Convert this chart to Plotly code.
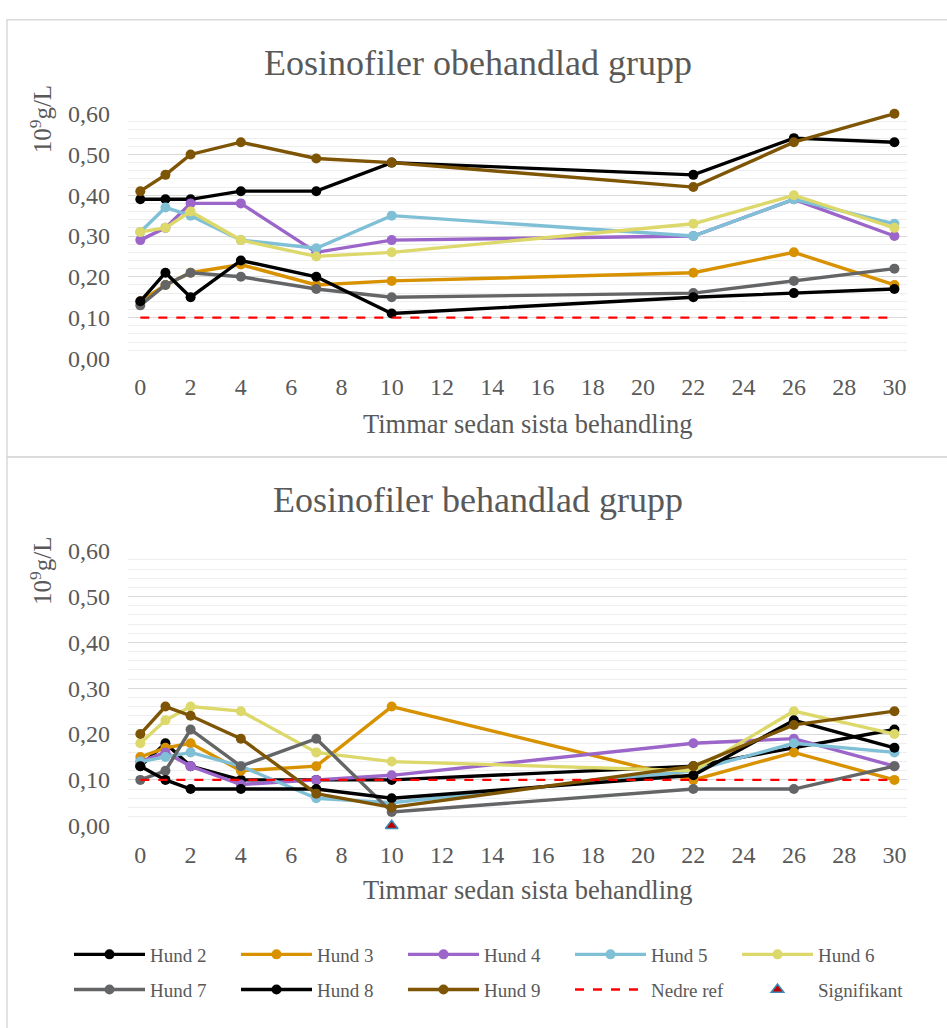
import plotly.graph_objects as go

# ---------------- data ----------------
hours = [0, 1, 2, 4, 7, 10, 22, 26, 30]
dog_names = ["Hund 2", "Hund 3", "Hund 4", "Hund 5", "Hund 6", "Hund 7", "Hund 8", "Hund 9"]

# untreated group (obehandlad)
untreated_h2 = [0.39, 0.39, 0.39, 0.41, 0.41, 0.48, 0.45, 0.54, 0.53]
untreated_h3 = [0.14, 0.18, 0.21, 0.23, 0.18, 0.19, 0.21, 0.26, 0.18]
untreated_h4 = [0.29, 0.32, 0.38, 0.38, 0.26, 0.29, 0.30, 0.39, 0.30]
untreated_h5 = [0.31, 0.37, 0.35, 0.29, 0.27, 0.35, 0.30, 0.39, 0.33]
untreated_h6 = [0.31, 0.32, 0.36, 0.29, 0.25, 0.26, 0.33, 0.40, 0.32]
untreated_h7 = [0.13, 0.18, 0.21, 0.20, 0.17, 0.15, 0.16, 0.19, 0.22]
untreated_h8 = [0.14, 0.21, 0.15, 0.24, 0.20, 0.11, 0.15, 0.16, 0.17]
untreated_h9 = [0.41, 0.45, 0.50, 0.53, 0.49, 0.48, 0.42, 0.53, 0.60]

# treated group (behandlad)
treated_h2 = [0.13, 0.18, 0.13, 0.10, 0.10, 0.10, 0.13, 0.17, 0.21]
treated_h3 = [0.15, 0.17, 0.18, 0.12, 0.13, 0.26, 0.10, 0.16, 0.10]
treated_h4 = [0.14, 0.16, 0.13, 0.09, 0.10, 0.11, 0.18, 0.19, 0.13]
treated_h5 = [0.14, 0.15, 0.16, 0.13, 0.06, 0.05, 0.12, 0.18, 0.16]
treated_h6 = [0.18, 0.23, 0.26, 0.25, 0.16, 0.14, 0.12, 0.25, 0.20]
treated_h7 = [0.10, 0.12, 0.21, 0.13, 0.19, 0.03, 0.08, 0.08, 0.13]
treated_h8 = [0.13, 0.10, 0.08, 0.08, 0.08, 0.06, 0.11, 0.23, 0.17]
treated_h9 = [0.20, 0.26, 0.24, 0.19, 0.07, 0.04, 0.13, 0.22, 0.25]

ref_x = [0, 30]
ref_y = [0.10, 0.10]

signif_x = [10]
signif_y = [0.0]

x_ticks = list(range(0, 31, 2))
y_ticks = [0.0, 0.1, 0.2, 0.3, 0.4, 0.5, 0.6]

# ---------------- style ----------------
colors = ["#000000", "#D89200", "#9B65C9", "#80C0D6", "#DCD86A", "#646567", "#000000", "#7E5504"]
FONT = "Liberation Serif"
TXT = "#595959"
W, H = 947, 1028

untreated = [untreated_h2, untreated_h3, untreated_h4, untreated_h5,
             untreated_h6, untreated_h7, untreated_h8, untreated_h9]
treated = [treated_h2, treated_h3, treated_h4, treated_h5,
           treated_h6, treated_h7, treated_h8, treated_h9]


def px_x(p):
    return p / W


def px_y(p):
    return 1 - p / H


fig = go.Figure()

for i, name in enumerate(dog_names):
    fig.add_trace(go.Scatter(
        x=hours, y=untreated[i], name=name, mode="lines+markers",
        line=dict(color=colors[i], width=3.4), marker=dict(color=colors[i], size=10),
        xaxis="x", yaxis="y", showlegend=False, legendgroup=name, cliponaxis=False))
fig.add_trace(go.Scatter(
    x=ref_x, y=ref_y, name="Nedre ref", mode="lines",
    line=dict(color="#FF0000", width=2.4, dash="dash"),
    xaxis="x", yaxis="y", showlegend=False, legendgroup="ref"))

for i, name in enumerate(dog_names):
    fig.add_trace(go.Scatter(
        x=hours, y=treated[i], name=name, mode="lines+markers",
        line=dict(color=colors[i], width=3.4), marker=dict(color=colors[i], size=10),
        xaxis="x2", yaxis="y2", showlegend=True, legendgroup=name, cliponaxis=False,
        legend="legend" if i < 5 else "legend2"))
fig.add_trace(go.Scatter(
    x=ref_x, y=ref_y, name="Nedre ref", mode="lines",
    line=dict(color="#FF0000", width=2.4, dash="dash"),
    xaxis="x2", yaxis="y2", showlegend=True, legendgroup="ref", legend="legend2"))
fig.add_trace(go.Scatter(
    x=signif_x, y=signif_y, name="Signifikant", mode="markers",
    marker=dict(symbol="triangle-up", color="#C00000", size=11,
                line=dict(color="#3D8DB5", width=1.5)),
    xaxis="x2", yaxis="y2", showlegend=True, legend="legend2", cliponaxis=False))

xdom = [px_x(128), px_x(907)]
common_x = dict(range=[-0.49, 30.5], tickvals=x_ticks, showgrid=False, zeroline=False,
                showline=False, ticks="", ticklabelstandoff=12,
                tickfont=dict(family=FONT, size=24, color=TXT))
common_y = dict(range=[0, 0.6005], tickvals=y_ticks, tickformat=".2f",
                showgrid=True, gridcolor="#D9D9D9", gridwidth=1.3, zeroline=False,
                showline=False, ticks="", ticklabelstandoff=17,
                tickfont=dict(family=FONT, size=24, color=TXT),
                minor=dict(dtick=0.02, tick0=0, showgrid=True, gridcolor="#EEEEEE", gridwidth=1))

fig.update_layout(
    width=W, height=H, autosize=False,
    margin=dict(l=0, r=0, t=0, b=0),
    paper_bgcolor="white", plot_bgcolor="white",
    separators=", ",
    font=dict(family=FONT, color=TXT),
    hovermode=False,
    xaxis=dict(domain=xdom, anchor="y", **common_x),
    yaxis=dict(domain=[px_y(355), px_y(104)], anchor="x", **common_y),
    xaxis2=dict(domain=xdom, anchor="y2", **common_x),
    yaxis2=dict(domain=[px_y(834), px_y(552)], anchor="x2", **common_y),
    legend=dict(orientation="h", x=px_x(69), xanchor="left", y=px_y(966), yanchor="middle",
                font=dict(family=FONT, size=19, color=TXT), itemwidth=71,
                entrywidth=81, bgcolor="rgba(0,0,0,0)", traceorder="normal"),
    legend2=dict(orientation="h", x=px_x(69), xanchor="left", y=px_y(1002), yanchor="middle",
                 font=dict(family=FONT, size=19, color=TXT), itemwidth=71,
                 entrywidth=81, bgcolor="rgba(0,0,0,0)", traceorder="normal"),
    shapes=[
        dict(type="rect", xref="paper", yref="paper", x0=px_x(7), x1=1.05,
             y0=px_y(456), y1=px_y(8), line=dict(color="#D9D9D9", width=1.5), layer="below"),
        dict(type="rect", xref="paper", yref="paper", x0=px_x(7), x1=1.05,
             y0=-0.05, y1=px_y(456), line=dict(color="#D9D9D9", width=1.5), layer="below"),
    ],
    annotations=[
        dict(text="Eosinofiler obehandlad grupp", xref="paper", yref="paper",
             x=px_x(478), y=px_y(52), xanchor="center", yanchor="middle", showarrow=False,
             font=dict(family=FONT, size=36, color=TXT)),
        dict(text="Eosinofiler behandlad grupp", xref="paper", yref="paper",
             x=px_x(478), y=px_y(500), xanchor="center", yanchor="middle", showarrow=False,
             font=dict(family=FONT, size=36, color=TXT)),
        dict(text="Timmar sedan sista behandling", xref="paper", yref="paper",
             x=px_x(528), y=px_y(422), xanchor="center", yanchor="middle", showarrow=False,
             font=dict(family=FONT, size=26.5, color=TXT)),
        dict(text="Timmar sedan sista behandling", xref="paper", yref="paper",
             x=px_x(528), y=px_y(900), xanchor="center", yanchor="middle", showarrow=False,
             font=dict(family=FONT, size=26.5, color=TXT)),
        dict(text="10<sup>9</sup>g/L", xref="paper", yref="paper", textangle=-90,
             x=px_x(41), y=px_y(110), xanchor="center", yanchor="middle", showarrow=False,
             font=dict(family=FONT, size=25, color=TXT)),
        dict(text="10<sup>9</sup>g/L", xref="paper", yref="paper", textangle=-90,
             x=px_x(41), y=px_y(573), xanchor="center", yanchor="middle", showarrow=False,
             font=dict(family=FONT, size=25, color=TXT)),
    ],
)

fig.write_html("out.html", post_script="document.body.style.margin='0';",
               config={"displayModeBar": False})
